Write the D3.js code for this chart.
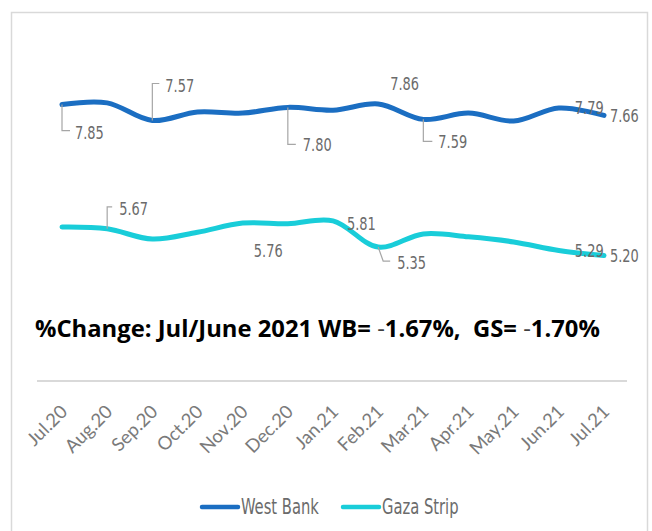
<!DOCTYPE html>
<html>
<head>
<meta charset="utf-8">
<script src="https://cdn.jsdelivr.net/npm/d3@7"></script>
<style>
  body { margin: 0; background: #fff; }
  .lbl { font-family: "Liberation Sans Narrow", "DejaVu Sans Condensed", "Noto Sans", sans-serif; fill: #6b6b6b; }
  .tick text { font-family: Lato, "Noto Sans", sans-serif; fill: #7a7a7a; }
</style>
</head>
<body>
<svg width="652" height="531"></svg>
<script>
// data
const months = ["Jul.20","Aug.20","Sep.20","Oct.20","Nov.20","Dec.20","Jan.21","Feb.21","Mar.21","Apr.21","May.21","Jun.21","Jul.21"];
const westBank = [7.85, 7.88, 7.57, 7.72, 7.70, 7.80, 7.75, 7.86, 7.59, 7.70, 7.56, 7.79, 7.66];
const gazaStrip = [5.70, 5.67, 5.49, 5.61, 5.77, 5.76, 5.81, 5.35, 5.58, 5.53, 5.44, 5.29, 5.20];
const seriesNames = ["West Bank", "Gaza Strip"];
const noteParts = ["%Change: Jul/June 2021 WB= ", "-", "1.67%,  GS= ", "-", "1.70%"];

// which points carry a label, and where it sits (layout only)
const wbLabels = [
  {i: 0, dx: 13, dy: 28, leader: [[0,0],[0,26],[8,26]]},
  {i: 2, dx: 13, dy: -35, leader: [[0,0],[0,-37],[7,-37]]},
  {i: 5, dx: 15, dy: 37, leader: [[0,0],[0,37],[8,37]]},
  {i: 7, dx: 12, dy: -20},
  {i: 8, dx: 15, dy: 22, leader: [[0,0],[0,22],[9,22]]},
  {i: 11, dx: 16, dy: 0},
  {i: 12, dx: 6, dy: 0}
];
const gsLabels = [
  {i: 1, dx: 12, dy: -20, leader: [[0,0],[0,-22],[5,-22]]},
  {i: 5, dx: -34, dy: 27},
  {i: 6, dx: 14, dy: 3},
  {i: 7, dx: 19, dy: 16, leader: [[0,0],[5,14],[12,14]]},
  {i: 11, dx: 16, dy: 0},
  {i: 12, dx: 6, dy: 0}
];

const svg = d3.select("svg");

// chart frame (no bottom edge)
svg.append("path")
  .attr("d", "M11.5,531 L11.5,12.5 L647.5,12.5 L647.5,531")
  .attr("fill", "none")
  .attr("stroke", "#d9d9d9")
  .attr("stroke-width", 1.5);

const x = d3.scalePoint().domain(months).range([62, 604]);
const y = d3.scaleLinear().domain([3, 9]).range([381, 39]);

// axis
const xAxis = svg.append("g")
  .attr("transform", "translate(0,381)")
  .call(d3.axisBottom(x).tickSize(0).tickPadding(0));
xAxis.select(".domain").remove();
svg.append("line")
  .attr("x1", 37).attr("x2", 627).attr("y1", 381).attr("y2", 381)
  .attr("stroke", "#d9d9d9").attr("stroke-width", 2);
xAxis.selectAll(".tick text")
  .attr("font-size", 18.5)
  .attr("text-anchor", "end")
  .attr("dy", 0)
  .attr("transform", "translate(6,32) rotate(-45)");

const line = d3.line()
  .x((d, i) => x(months[i]))
  .y(d => y(d))
  .curve(d3.curveCatmullRom.alpha(0.5));

const colors = ["#1b6ec2", "#19cdd9"];

[westBank, gazaStrip].forEach((vals, k) => {
  svg.append("path")
    .datum(vals)
    .attr("d", line)
    .attr("fill", "none")
    .attr("stroke", colors[k])
    .attr("stroke-width", 5)
    .attr("stroke-linecap", "round");
});

// narrow text, squeezed horizontally to look condensed
function narrowText(parent, tx, ty, str, size) {
  return parent.append("text")
    .attr("class", "lbl")
    .attr("transform", `translate(${tx},${ty}) scale(0.8,1)`)
    .attr("dy", "0.35em")
    .attr("font-size", size)
    .text(str);
}

function addLabels(vals, labels) {
  labels.forEach(l => {
    const px = x(months[l.i]), py = y(vals[l.i]);
    if (l.leader) {
      svg.append("path")
        .attr("d", d3.line()(l.leader.map(p => [px + p[0], py + p[1]])))
        .attr("fill", "none")
        .attr("stroke", "#a6a6a6")
        .attr("stroke-width", 1.2);
    }
    narrowText(svg, px + l.dx, py + l.dy, vals[l.i].toFixed(2), 18);
  });
}
addLabels(westBank, wbLabels);
addLabels(gazaStrip, gsLabels);

// note
const noteText = svg.append("text")
  .attr("x", 35)
  .attr("y", 337)
  .attr("font-family", "'Open Sans', sans-serif")
  .attr("font-size", 23.8)
  .attr("xml:space", "preserve");
noteParts.forEach(p => {
  noteText.append("tspan")
    .attr("font-weight", p === "-" ? "normal" : "bold")
    .attr("fill", p === "-" ? "#404040" : "#000")
    .text(p);
});

// legend
const legend = svg.append("g").attr("transform", "translate(202,507)");
const legX = [0, 141];
seriesNames.forEach((name, k) => {
  const g = legend.append("g").attr("transform", `translate(${legX[k]},0)`);
  g.append("line")
    .attr("x1", 0).attr("x2", 36).attr("y1", 0).attr("y2", 0)
    .attr("stroke", colors[k]).attr("stroke-width", 4.5).attr("stroke-linecap", "round");
  narrowText(g, 39, 0, name, 20.5);
});
</script>
</body>
</html>
